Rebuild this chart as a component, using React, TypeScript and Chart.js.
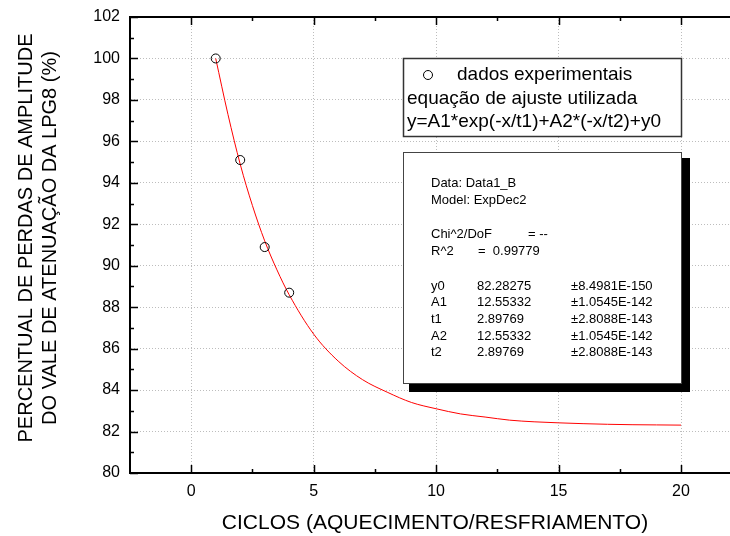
import React, { useEffect, useRef } from 'react';
import { Chart, registerables } from 'chart.js';

Chart.register(...registerables);

// ---- data ----
const cycles = [1, 2, 3, 4];
const losses = [100.0, 95.1, 90.9, 88.7];

const fitX = [1, 1.5, 2, 2.5, 3, 3.5, 4, 5, 6, 7, 8, 9, 10, 11, 12, 13, 14, 15, 16, 17, 18, 19, 20];
const fitY = [100.0, 97.3, 94.9, 92.9, 91.2, 89.8, 88.6, 86.7, 85.4, 84.5, 83.9, 83.4, 83.1, 82.85, 82.7, 82.55, 82.47, 82.42, 82.38, 82.35, 82.33, 82.32, 82.31];

const xMajorTicks = [0, 5, 10, 15, 20];
const xMinorTicks = [2.5, 7.5, 12.5, 17.5];
const yMajorTicks = [80, 82, 84, 86, 88, 90, 92, 94, 96, 98, 100, 102];
const yMinorTicks = [81, 83, 85, 87, 89, 91, 93, 95, 97, 99, 101];

const xTitle = 'CICLOS (AQUECIMENTO/RESFRIAMENTO)';
const yTitle = ['PERCENTUAL DE PERDAS DE AMPLITUDE', 'DO VALE DE ATENUAÇÃO DA LPG8 (%)'];

const legendLines = ['dados experimentais', 'equação de ajuste utilizada', 'y=A1*exp(-x/t1)+A2*(-x/t2)+y0'];
const statsHeader = ['Data: Data1_B', 'Model: ExpDec2'];
const chiLabel = 'Chi^2/DoF';
const chiValue = '= --';
const r2Label = 'R^2';
const r2Value = '=  0.99779';
const paramNames = ['y0', 'A1', 't1', 'A2', 't2'];
const paramValues = ['82.28275', '12.55332', '2.89769', '12.55332', '2.89769'];
const paramErrors = ['±8.4981E-150', '±1.0545E-142', '±2.8088E-143', '±1.0545E-142', '±2.8088E-143'];

const FONT = '"Liberation Sans", Arial, Helvetica, sans-serif';

const framePlugin = {
  id: 'frameTicks',
  afterDatasetsDraw(chart: any) {
    const { ctx, chartArea, scales } = chart;
    const { top, bottom, left } = chartArea;
    const x = scales.x;
    const y = scales.y;
    ctx.save();
    ctx.strokeStyle = '#000';
    ctx.lineWidth = 1.5;
    ctx.beginPath();
    const xt = (vals: number[], len: number) => {
      vals.forEach((v) => {
        const px = Math.round(x.getPixelForValue(v)) + 0.5;
        ctx.moveTo(px, bottom);
        ctx.lineTo(px, bottom - len);
        ctx.moveTo(px, top);
        ctx.lineTo(px, top + len);
      });
    };
    const yt = (vals: number[], len: number) => {
      vals.forEach((v) => {
        const py = Math.round(y.getPixelForValue(v)) + 0.5;
        ctx.moveTo(left, py);
        ctx.lineTo(left + len, py);
      });
    };
    xt(xMajorTicks, 8);
    xt(xMinorTicks, 4);
    yt(yMajorTicks, 8);
    yt(yMinorTicks, 4);
    ctx.stroke();
    ctx.restore();
  },
  afterDraw(chart: any) {
    const { ctx } = chart;
    ctx.save();
    // y axis title (two rotated lines)
    ctx.fillStyle = '#000';
    ctx.font = `20px ${FONT}`;
    ctx.textAlign = 'center';
    ctx.textBaseline = 'middle';
    ctx.save();
    ctx.translate(26, 238);
    ctx.rotate(-Math.PI / 2);
    ctx.fillText(yTitle[0], 0, 0);
    ctx.fillText(yTitle[1], 0, 24);
    ctx.restore();

    // x axis title
    ctx.font = `21px ${FONT}`;
    ctx.fillText(xTitle, 435, 523);

    // legend box
    ctx.fillStyle = '#fff';
    ctx.fillRect(403, 58, 279, 79);
    ctx.strokeStyle = '#333';
    ctx.lineWidth = 1.5;
    ctx.strokeRect(403.5, 58.5, 278, 78);
    ctx.beginPath();
    ctx.lineWidth = 1;
    ctx.strokeStyle = '#000';
    ctx.arc(428, 75, 4.5, 0, Math.PI * 2);
    ctx.stroke();
    ctx.fillStyle = '#000';
    ctx.font = `19px ${FONT}`;
    ctx.textAlign = 'left';
    ctx.fillText(legendLines[0], 457, 75);
    ctx.fillText(legendLines[1], 407, 99);
    ctx.fillText(legendLines[2], 407, 122);

    // stats box with shadow
    ctx.fillStyle = '#000';
    ctx.fillRect(409, 158, 281, 234);
    ctx.fillStyle = '#fff';
    ctx.fillRect(403, 152, 279, 232);
    ctx.strokeStyle = '#444';
    ctx.lineWidth = 1;
    ctx.strokeRect(403.5, 152.5, 278, 231);
    ctx.fillStyle = '#000';
    ctx.font = `13px ${FONT}`;
    ctx.fillText(statsHeader[0], 431, 183);
    ctx.fillText(statsHeader[1], 431, 200);
    ctx.fillText(chiLabel, 431, 234);
    ctx.fillText(chiValue, 528, 234);
    ctx.fillText(r2Label, 431, 251);
    ctx.fillText(r2Value, 478, 251);
    paramNames.forEach((n, i) => {
      const py = 286 + i * 16.7;
      ctx.fillText(n, 431, py);
      ctx.fillText(paramValues[i], 477, py);
      ctx.fillText(paramErrors[i], 571, py);
    });
    ctx.restore();
  },
};

export default function App() {
  const canvasRef = useRef<HTMLCanvasElement | null>(null);

  useEffect(() => {
    if (!canvasRef.current) return;
    const gridColor = '#bdbdbd';
    const chart = new Chart(canvasRef.current, {
      type: 'scatter',
      data: {
        datasets: [
          {
            label: 'dados experimentais',
            data: cycles.map((c, i) => ({ x: c, y: losses[i] })),
            pointStyle: 'circle',
            pointRadius: 4.5,
            pointBorderWidth: 1,
            pointBorderColor: '#000',
            pointBackgroundColor: 'rgba(0,0,0,0)',
            showLine: false,
            order: 0,
          },
          {
            label: 'ajuste',
            data: fitX.map((v, i) => ({ x: v, y: fitY[i] })),
            showLine: true,
            borderColor: '#ff0000',
            borderWidth: 1,
            pointRadius: 0,
            cubicInterpolationMode: 'monotone',
            fill: false,
            order: 1,
          },
        ],
      },
      options: {
        responsive: false,
        animation: false,
        devicePixelRatio: 1,
        layout: { padding: 0, autoPadding: false },
        plugins: {
          legend: { display: false },
          tooltip: { enabled: false },
          title: { display: false },
        },
        scales: {
          x: {
            type: 'linear',
            position: 'bottom',
            min: -2.5,
            max: 22,
            afterBuildTicks: (s: any) => {
              s.ticks = xMajorTicks.map((v) => ({ value: v }));
            },
            afterFit: (s: any) => {
              s.height = 63;
              s.paddingLeft = 0;
              s.paddingRight = 0;
            },
            grid: { color: gridColor, lineWidth: 1, drawTicks: false },
            border: { display: true, color: '#000', width: 2, dash: [1, 2] },
            ticks: {
              color: '#000',
              font: { family: FONT, size: 16 },
              padding: 9,
              maxRotation: 0,
              autoSkip: false,
            },
          },
          x2: {
            type: 'linear',
            position: 'top',
            min: -2.5,
            max: 22,
            afterFit: (s: any) => {
              s.height = 17;
              s.paddingLeft = 0;
              s.paddingRight = 0;
            },
            grid: { display: false, drawTicks: false },
            border: { display: true, color: '#000', width: 2 },
            ticks: { display: false },
          },
          y: {
            type: 'linear',
            position: 'left',
            min: 80,
            max: 102,
            afterBuildTicks: (s: any) => {
              s.ticks = yMajorTicks.map((v) => ({ value: v }));
            },
            afterFit: (s: any) => {
              s.width = 130;
              s.paddingTop = 0;
              s.paddingBottom = 0;
            },
            grid: { color: gridColor, lineWidth: 1, drawTicks: false },
            border: { display: true, color: '#000', width: 2, dash: [1, 2] },
            ticks: {
              color: '#000',
              font: { family: FONT, size: 16 },
              padding: 10,
              autoSkip: false,
            },
          },
        },
      } as any,
      plugins: [framePlugin],
    });
    return () => chart.destroy();
  }, []);

  return (
    <div style={{ position: 'absolute', left: 0, top: 0, width: 730, height: 536, background: '#fff' }}>
      <canvas ref={canvasRef} width={730} height={536} style={{ display: 'block' }} />
    </div>
  );
}
